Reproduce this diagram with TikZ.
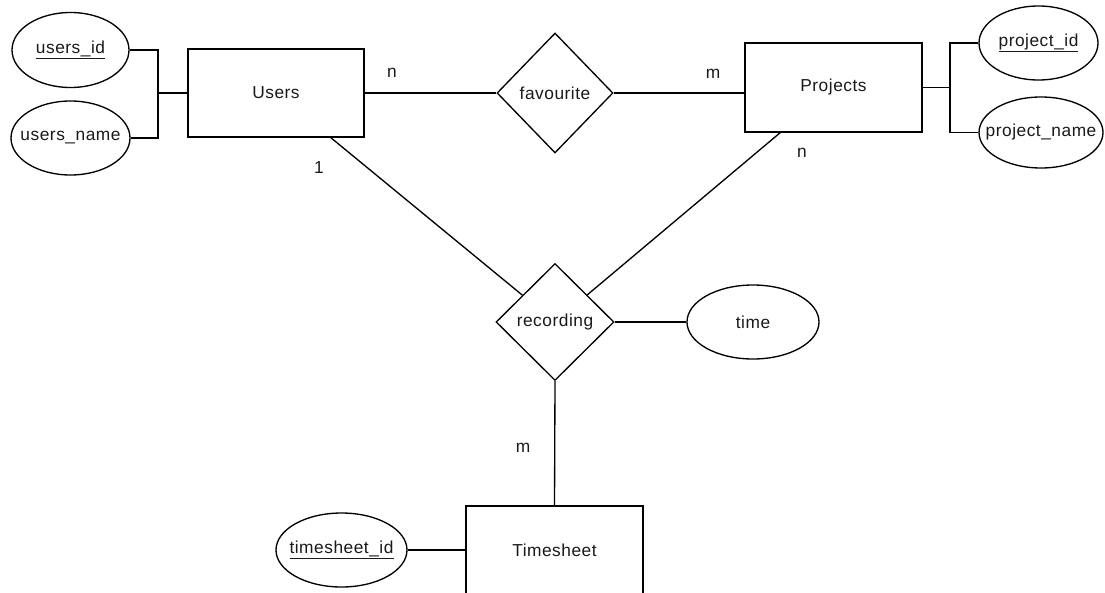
\documentclass[tikz,border=0pt]{standalone}
\usepackage{fontspec}
\setmainfont{Liberation Sans}[LetterSpace=3]
\usetikzlibrary{shapes.geometric}
\begin{document}
\begin{tikzpicture}[x=0.75pt,y=-0.75pt,line width=1pt,
  every node/.style={font=\fontsize{13}{15}\selectfont,text=black!90},
  ent/.style={draw,rectangle,inner sep=0pt},
  attr/.style={draw,ellipse,inner sep=0pt},
  rel/.style={draw,diamond,inner sep=0pt},
  card/.style={inner sep=0pt}]
\useasboundingbox (0,0) rectangle (1105,592);
\clip (0,0) rectangle (1105,592);
% entities
\node[ent,minimum width=132pt,minimum height=66pt] (users) at (276,93) {Users};
\node[ent,minimum width=132.75pt,minimum height=66.75pt] (proj) at (833.5,87.5) {Projects};
\node[ent,minimum width=132.75pt,minimum height=66pt] (ts) at (554.5,550) {Timesheet};
% relationships
\node[rel,minimum width=87pt,minimum height=90pt] (fav) at (555,93) {\makebox[0pt]{favourite}};
\node[rel,minimum width=88.5pt,minimum height=87.75pt] (rec) at (555,322) {\makebox[0pt]{recording}};
% attributes
\node[attr,minimum width=87.75pt,minimum height=56.25pt] (uid) at (70.5,50) {\makebox[0pt]{\underline{users\_id}}};
\node[attr,minimum width=89.25pt,minimum height=55.5pt] (uname) at (70.5,138) {\makebox[0pt]{users\_name}};
\node[attr,minimum width=89.25pt,minimum height=55.5pt] (pid) at (1038.5,43) {\makebox[0pt]{\underline{project\_id}}};
\node[attr,minimum width=93pt,minimum height=53.25pt] (pname) at (1041,132.5) {\makebox[0pt]{project\_name}};
\node[attr,minimum width=99pt,minimum height=55.5pt] (time) at (753,322) {\makebox[0pt]{time}};
\node[attr,minimum width=98.25pt,minimum height=55.5pt] (tsid) at (341.5,550) {\makebox[0pt]{\underline{timesheet\_id}}};
% junctions
\coordinate (ju) at (158,93);
\coordinate (jp) at (950,87.5);
\coordinate (ua) at (330,137);
\coordinate (pa) at (781,132);
% connectors
\draw (uid.east) -- (uid.east -| ju) -- (uname.east -| ju) -- (uname.east);
\draw (users.west) -- (ju);
\draw (proj.east) -- (jp);
\draw (pid.west) -- (pid.west -| jp) -- (pname.west -| jp) -- (pname.west);
\draw (users.east) -- (fav.west);
\draw (fav.east) -- (fav.east -| proj.west);
\draw (ua) -- (rec);
\draw (pa) -- (rec);
\draw (rec.east) -- (time.west);
\draw (rec.south) -- (ts.north);
\draw (tsid.east) -- (ts.west);
% cardinalities
\node[card] (c1) at (392,73) {n};
\node[card] (c2) at (713,74) {m};
\node[card] (c3) at (319,168) {1};
\node[card] (c4) at (802,153) {n};
\node[card] (c5) at (523,448) {m};
\end{tikzpicture}
\end{document}
